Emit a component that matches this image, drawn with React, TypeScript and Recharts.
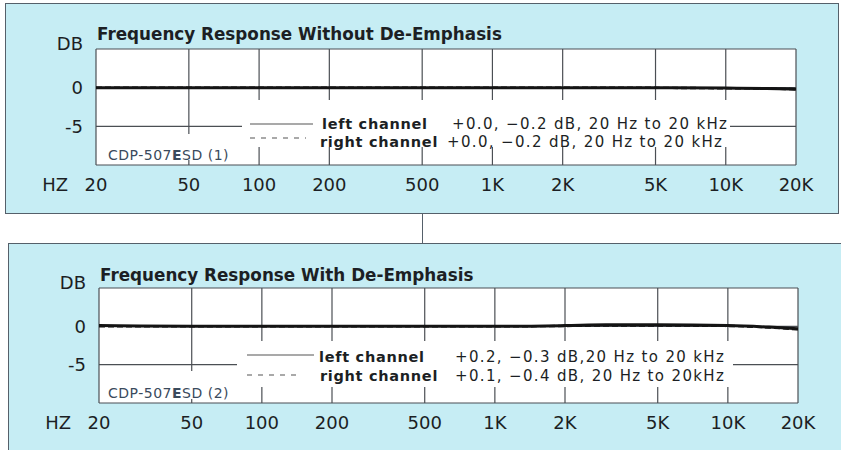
import React from "react"
import { LineChart, Line, XAxis, YAxis, CartesianGrid } from "recharts"

const FREQS = [20, 30, 50, 100, 200, 500, 1000, 2000, 3000, 5000, 10000, 15000, 20000]
const FREQ_TICKS = [20, 50, 100, 200, 500, 1000, 2000, 5000, 10000, 20000]
const DB_TICKS = [-10, -5, 0, 5]

// without de-emphasis
const LEFT_1 = [0, 0, 0, 0, 0, 0, 0, 0, 0, 0, -0.05, -0.1, -0.2]
const RIGHT_1 = [0, 0, 0, 0, 0, 0, 0, 0, 0, -0.02, -0.08, -0.12, -0.2]
// with de-emphasis
const LEFT_2 = [0.1, 0.05, 0, 0, 0, 0, 0, 0.1, 0.2, 0.2, 0.1, -0.1, -0.3]
const RIGHT_2 = [0, 0, 0, 0, 0, 0, 0, 0.05, 0.1, 0.1, 0.05, -0.15, -0.4]

const FONT = "'DejaVu Sans', 'Liberation Sans', sans-serif"
const INK = "#1c1f24"
const BG = "#c6edf4"

function fmtFreq(v: number) {
  return v >= 1000 ? `${v / 1000}K` : `${v}`
}

function build(left: number[], right: number[]) {
  return FREQS.map((f, i) => ({ f, left: left[i], right: right[i] }))
}

function XTick(props: any) {
  const { x, y, payload } = props
  return (
    <g>
      {payload.value === 20 && (
        <text x={x - 28} y={y} dy={26} textAnchor="end" fontSize={18} fill={INK} fontFamily={FONT}>
          HZ
        </text>
      )}
      <text x={x} y={y} dy={26} textAnchor="middle" fontSize={18} fill={INK} fontFamily={FONT}>
        {fmtFreq(payload.value)}
      </text>
    </g>
  )
}

function YTick(props: any) {
  const { x, y, payload } = props
  const v = payload.value
  if (v === -10) return null
  const label = v === 5 ? "DB" : `${v}`
  return (
    <text x={x - 13} y={y} dy={v === 5 ? 1 : 6.5} textAnchor="end" fontSize={18} fill={INK} fontFamily={FONT}>
      {label}
    </text>
  )
}

function Panel({ data, top, height, margin, yWidth, xHeight }: any) {
  return (
    <div style={{ position: "absolute", left: 0, top }}>
      <LineChart width={841} height={height} data={data} margin={margin}>
        <CartesianGrid
          stroke="#4b4f54"
          strokeWidth={1.2}
          fill="#ffffff"
          fillOpacity={1}
          horizontalValues={DB_TICKS}
          verticalValues={FREQ_TICKS}
        />
        <XAxis
          dataKey="f"
          type="number"
          scale="log"
          domain={[20, 20000]}
          ticks={FREQ_TICKS}
          allowDataOverflow
          axisLine={false}
          tickLine={false}
          tickSize={0}
          tickMargin={0}
          height={xHeight}
          tick={<XTick />}
          interval={0}
        />
        <YAxis
          type="number"
          domain={[-10, 5]}
          ticks={DB_TICKS}
          allowDataOverflow
          axisLine={false}
          tickLine={false}
          tickSize={0}
          tickMargin={0}
          width={yWidth}
          tick={<YTick />}
          interval={0}
        />
        <Line dataKey="left" type="monotone" stroke="#141414" strokeWidth={3} dot={false} isAnimationActive={false} />
        <Line
          dataKey="right"
          type="monotone"
          stroke="#141414"
          strokeWidth={2.4}
          strokeDasharray="6 3"
          dot={false}
          isAnimationActive={false}
        />
      </LineChart>
    </div>
  )
}

function CdpLabel({ x, y, n }: { x: number; y: number; n: number }) {
  return (
    <text x={x} y={y} fontSize={14} letterSpacing={0.5} fill="#3a4a5c" fontFamily={FONT}>
      CDP-507<tspan fontWeight="bold">E</tspan>SD ({n})
    </text>
  )
}

export default function App() {
  const data1 = build(LEFT_1, RIGHT_1)
  const data2 = build(LEFT_2, RIGHT_2)
  const title = { fontSize: 16.8, fontWeight: "bold" as const, fill: INK, fontFamily: FONT }
  const lbl = { fontSize: 14.5, letterSpacing: 0.7, fontWeight: "bold" as const, fill: INK, fontFamily: FONT }
  const val = { fontSize: 15, letterSpacing: 1.35, fill: INK, fontFamily: FONT }
  return (
    <div
      style={{
        position: "absolute",
        left: 0,
        top: 0,
        width: 841,
        height: 450,
        overflow: "hidden",
        background: "#ffffff",
      }}
    >
      <div style={{ position: "absolute", left: 5, top: 3, width: 832, height: 209, background: BG, border: "1px solid #55606a" }} />
      <div style={{ position: "absolute", left: 8, top: 243, width: 840, height: 220, background: BG, border: "1px solid #55606a" }} />
      <div style={{ position: "absolute", left: 422, top: 213, width: 1, height: 30, background: "#55606a" }} />

      <Panel data={data1} top={0} height={213} margin={{ top: 49, right: 45, left: 0, bottom: 0 }} yWidth={96} xHeight={48} />
      <Panel data={data2} top={243} height={207} margin={{ top: 45, right: 43, left: 0, bottom: 0 }} yWidth={99} xHeight={47} />

      <svg width={841} height={450} style={{ position: "absolute", left: 0, top: 0, pointerEvents: "none" }}>
        {/* panel 1 */}
        <text x={97} y={40} {...title}>Frequency Response Without De-Emphasis</text>
        <rect x={242} y={100} width={488} height={47} fill="#fff" />
        <rect x={98} y={134} width={144} height={26} fill="#fff" />
        <line x1={250} x2={313} y1={124} y2={124} stroke="#555" strokeWidth={1.2} />
        <line x1={250} x2={306} y1={138} y2={138} stroke="#555" strokeWidth={1.2} strokeDasharray="5 6" />
        <text x={322} y={129} {...lbl}>left channel</text>
        <text x={452} y={129} {...val}>+0.0, −0.2 dB, 20 Hz to 20 kHz</text>
        <text x={320} y={147} {...lbl}>right channel</text>
        <text x={447} y={147} {...val}>+0.0, −0.2 dB, 20 Hz to 20 kHz</text>
        <CdpLabel x={108} y={160} n={1} />

        {/* panel 2 */}
        <text x={100} y={281} {...title}>Frequency Response With De-Emphasis</text>
        <rect x={237} y={341} width={496} height={46} fill="#fff" />
        <rect x={101} y={371} width={136} height={28} fill="#fff" />
        <line x1={247} x2={314} y1={355} y2={355} stroke="#555" strokeWidth={1.2} />
        <line x1={247} x2={302} y1={375} y2={375} stroke="#555" strokeWidth={1.2} strokeDasharray="5 6" />
        <text x={319} y={362} {...lbl}>left channel</text>
        <text x={455} y={362} {...val}>+0.2, −0.3 dB,20 Hz to 20 kHz</text>
        <text x={320} y={381} {...lbl}>right channel</text>
        <text x={455} y={381} {...val}>+0.1, −0.4 dB, 20 Hz to 20kHz</text>
        <CdpLabel x={108} y={398} n={2} />
      </svg>
    </div>
  )
}
